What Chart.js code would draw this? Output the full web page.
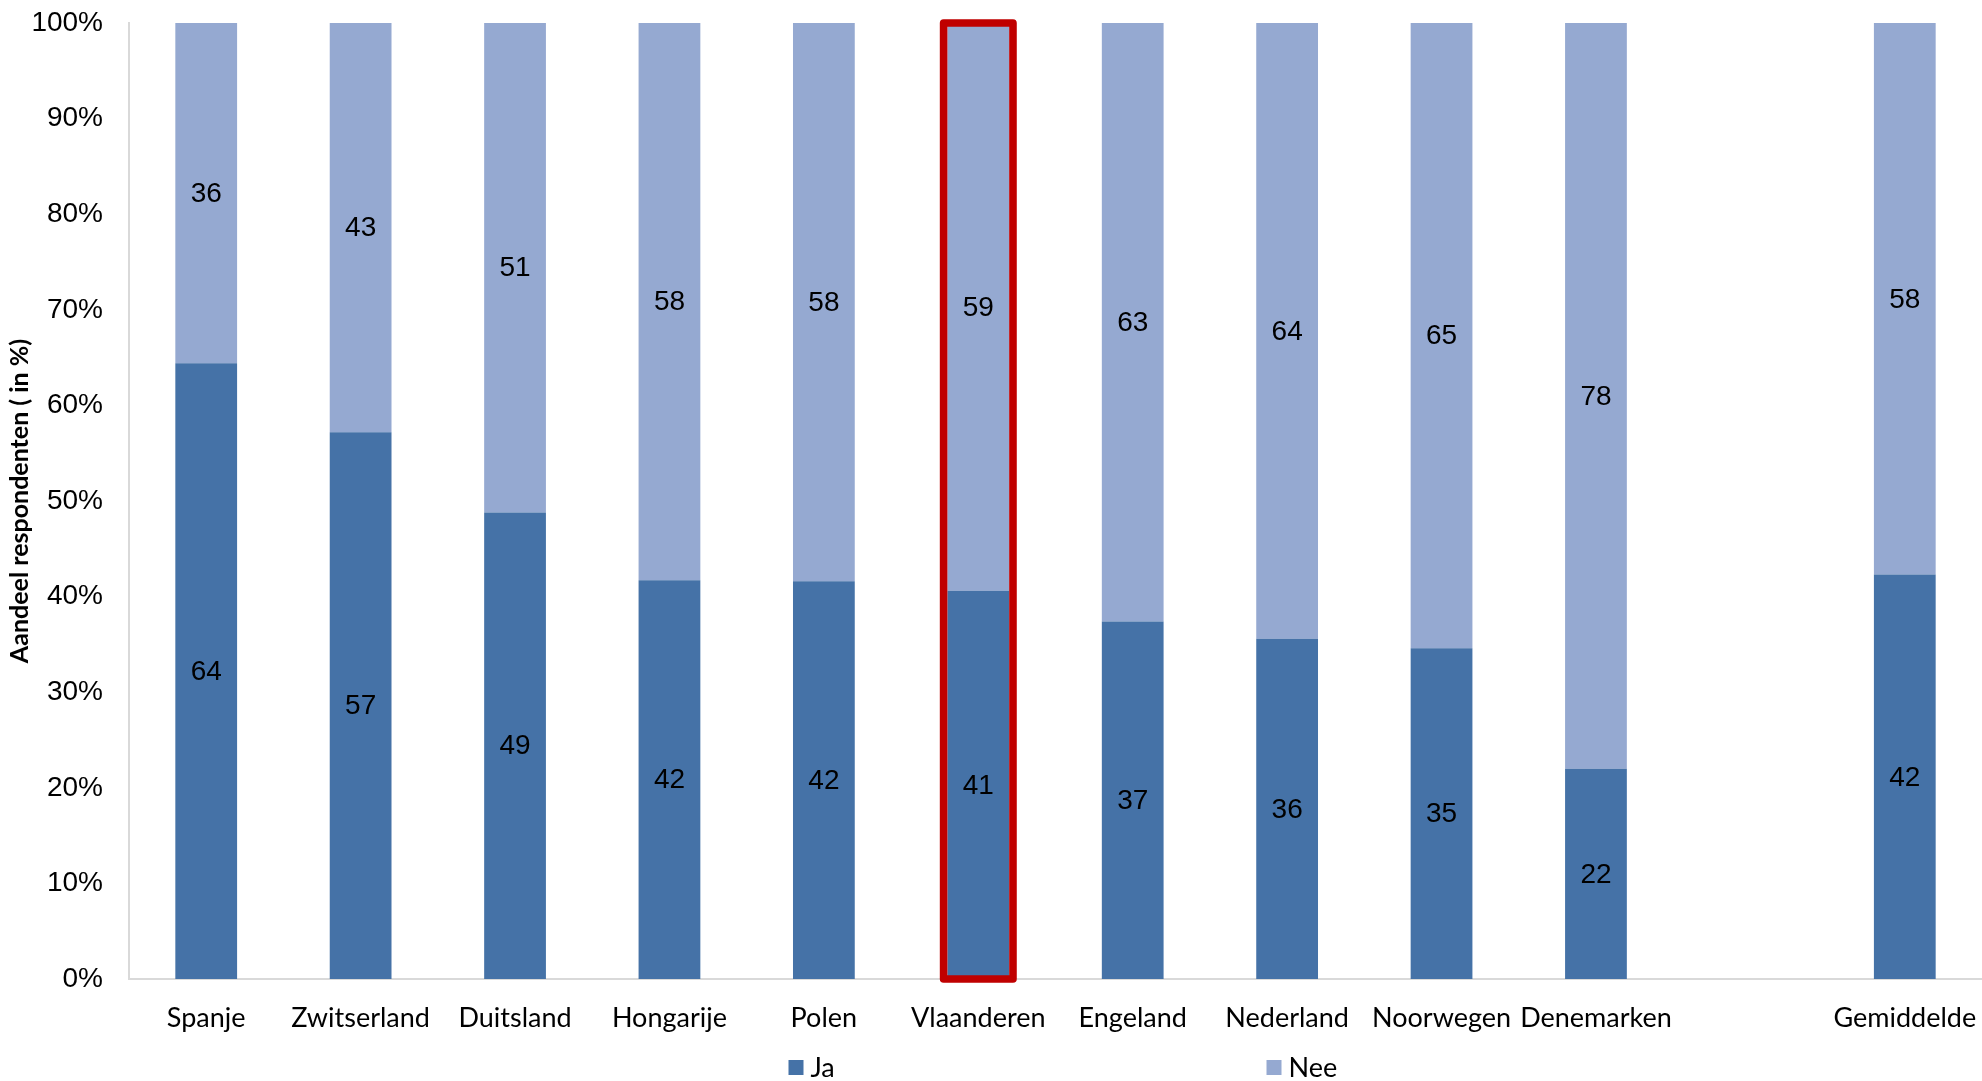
<!DOCTYPE html>
<html>
<head>
<meta charset="utf-8">
<script src="https://cdn.jsdelivr.net/npm/chart.js@4"></script>
<style>
  body { margin: 0; background: #fff; }
  canvas { display: block; }
</style>
</head>
<body>
<canvas id="surveyChart" width="1982" height="1081"></canvas>
<script>
// Categories (empty slot keeps the gap before the average)
const countries = ['Spanje', 'Zwitserland', 'Duitsland', 'Hongarije', 'Polen', 'Vlaanderen',
  'Engeland', 'Nederland', 'Noorwegen', 'Denemarken', '', 'Gemiddelde'];

// Share of respondents in %
const jaValues  = [64.4, 57.2, 48.8, 41.7, 41.6, 40.6, 37.4, 35.6, 34.6, 22.0, null, 42.3];
const neeValues = [35.6, 42.8, 51.2, 58.3, 58.4, 59.4, 62.6, 64.4, 65.4, 78.0, null, 57.7];

const highlighted = 'Vlaanderen';

// Numbers in the middle of every bar segment
const segmentLabels = {
  id: 'segmentLabels',
  afterDatasetsDraw(chart) {
    const ctx = chart.ctx;
    ctx.save();
    ctx.font = '28px "Liberation Sans", Arial, sans-serif';
    ctx.fillStyle = '#000';
    ctx.textAlign = 'center';
    ctx.textBaseline = 'middle';
    chart.data.datasets.forEach((ds, di) => {
      const meta = chart.getDatasetMeta(di);
      meta.data.forEach((bar, i) => {
        const v = ds.data[i];
        if (v == null) return;
        ctx.fillText(Math.round(v), bar.x, (bar.y + bar.base) / 2 + 1);
      });
    });
    ctx.restore();
  }
};

// Red frame round the highlighted country
const highlightBox = {
  id: 'highlightBox',
  afterDatasetsDraw(chart) {
    const i = chart.data.labels.indexOf(highlighted);
    if (i < 0) return;
    const low = chart.getDatasetMeta(0).data[i];
    const high = chart.getDatasetMeta(1).data[i];
    const lw = 7.6;
    const left = low.x - low.width / 2 - lw / 2;
    const right = low.x + low.width / 2 + lw / 2;
    const ctx = chart.ctx;
    ctx.save();
    ctx.strokeStyle = '#C00000';
    ctx.lineWidth = lw;
    ctx.lineJoin = 'round';
    ctx.strokeRect(left, high.y, right - left, low.base - high.y);
    ctx.restore();
  }
};

// Wide legend at the bottom, like the original
const wideLegend = {
  id: 'wideLegend',
  afterDraw(chart) {
    const ctx = chart.ctx;
    const area = chart.chartArea;
    const centre = (area.left + area.right) / 2;
    const spacing = 478;
    const y = 1068;
    ctx.save();
    ctx.font = '27px Lato, "Open Sans", sans-serif';
    ctx.textBaseline = 'middle';
    ctx.textAlign = 'left';
    chart.data.datasets.forEach((ds, i) => {
      const x = centre - 267 + i * spacing;
      ctx.fillStyle = ds.backgroundColor;
      ctx.fillRect(x, y - 8, 15, 15);
      ctx.fillStyle = '#000';
      ctx.fillText(ds.label, x + 22, y);
    });
    ctx.restore();
  }
};

const ctx = document.getElementById('surveyChart').getContext('2d');
const surveyChart = new Chart(ctx, {
  type: 'bar',
  data: {
    labels: countries,
    datasets: [
      {
        label: 'Ja',
        data: jaValues,
        backgroundColor: '#4572A7',
        borderWidth: 0
      },
      {
        label: 'Nee',
        data: neeValues,
        backgroundColor: '#95A9D1',
        borderWidth: 0
      }
    ]
  },
  options: {
    responsive: false,
    animation: false,
    categoryPercentage: 1,
    barPercentage: 0.4,
    layout: {
      padding: { top: 23, right: -4, bottom: 40, left: 0 }
    },
    plugins: {
      legend: { display: false },
      tooltip: { enabled: false }
    },
    scales: {
      x: {
        stacked: true,
        grid: { display: false, drawTicks: false },
        border: { display: true, color: '#D9D9D9', width: 2 },
        ticks: {
          color: '#000',
          padding: 23,
          maxRotation: 0,
          autoSkip: false,
          font: { family: 'Lato, "Open Sans", sans-serif', size: 27 }
        },
        afterFit(scale) {
          scale.height = 62;
          scale.paddingLeft = 0;
          scale.paddingRight = 0;
        }
      },
      y: {
        stacked: true,
        min: 0,
        max: 100,
        grid: { display: false, drawTicks: false },
        border: { display: true, color: '#D9D9D9', width: 2 },
        ticks: {
          stepSize: 10,
          color: '#000',
          padding: 26,
          font: { family: '"Liberation Sans", Arial, sans-serif', size: 28 },
          callback: v => v + '%'
        },
        title: {
          display: true,
          text: 'Aandeel respondenten ( in %)',
          color: '#000',
          padding: { top: 5, bottom: 4 },
          font: { family: 'Lato, "Open Sans", sans-serif', size: 25, weight: 'bold' }
        },
        afterFit(scale) {
          scale.width = 129;
          scale.paddingTop = 0;
          scale.paddingBottom = 0;
        }
      }
    }
  },
  plugins: [segmentLabels, highlightBox, wideLegend]
});
</script>
</body>
</html>
